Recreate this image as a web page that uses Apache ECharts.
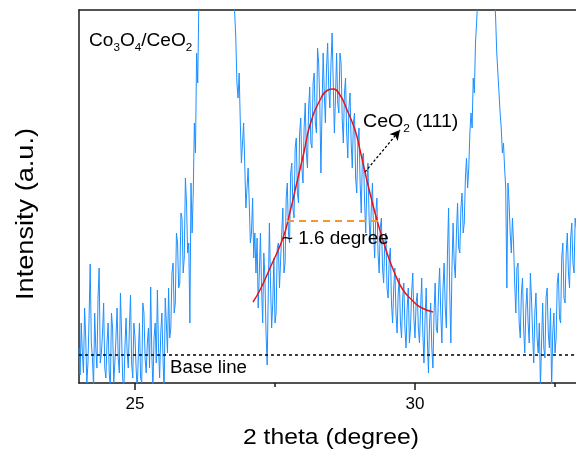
<!DOCTYPE html>
<html>
<head>
<meta charset="utf-8">
<script src="https://cdn.jsdelivr.net/npm/echarts@6/dist/echarts.min.js"></script>
<style>
html,body{margin:0;padding:0;background:#fff;}
#chart{width:576px;height:453px;}
</style>
</head>
<body>
<div id="chart"></div>
<script>
// ---- Data ----
// XRD scan: uniformly sampled 2-theta grid
const thetaStart = 24.0;
const thetaStep = 0.02;
// Measured intensity (a.u.) at each 2-theta step
const intensity = [
  35, 8, 60, 30, 10, 75, 45, 0, 20, 65, 119, 40, 25, -5, 70, 35, 15, 85, 115, 20,
  30, 50, 80, 15, 5, 40, 60, 10, -5, 70, 55, 0, 20, 45, 75, 25, 10, 90, 50, 5,
  -10, 35, 65, 30, 15, 55, 88, 20, 5, 60, 45, 15, -8, 30, 60, 5, 0, 80, 70, 25,
  10, 40, 55, 15, 96, 30, -5, 45, 60, 20, 93, 35, 5, 50, 70, 25, -10, 85, 60, 30,
  95, 45, 55, 110, 120, 70, 80, 150, 140, 95, 100, 170, 165, 110, 125, 205, 180, 130, 140, 60,
  200, 150, 190, 260, 230, 330, 300, 380, 420, 470, 520, 570, 610, 650, 690, 720, 750, 780, 800, 815,
  830, 840, 845, 840, 835, 820, 805, 785, 760, 730, 700, 665, 630, 590, 550, 510, 470, 430, 400, 370,
  345, 300, 285, 310, 262, 220, 240, 260, 218, 175, 195, 215, 180, 140, 150, 185, 125, 150, 110, 145,
  75, 110, 150, 95, 60, 130, 105, 50, 18, 90, 160, 100, 55, 80, 125, 60, 70, 135, 140, 95,
  95, 150, 175, 110, 120, 185, 200, 150, 140, 210, 220, 175, 165, 235, 245, 190, 180, 250, 265, 215,
  200, 255, 280, 230, 215, 275, 296, 240, 235, 300, 310, 260, 250, 335, 320, 280, 210, 275, 330, 290,
  260, 315, 340, 295, 275, 320, 350, 300, 250, 285, 330, 280, 270, 330, 320, 265, 240, 290, 305, 250,
  225, 275, 290, 240, 215, 260, 270, 205, 190, 240, 255, 200, 170, 225, 230, 180, 150, 200, 220, 165,
  140, 175, 200, 150, 125, 170, 185, 130, 110, 155, 165, 115, 100, 140, 150, 95, 85, 125, 135, 80,
  60, 95, 115, 70, 50, 90, 105, 60, 45, 85, 100, 55, 35, 75, 95, 40, 55, 90, 110, 65,
  45, 80, 90, 55, 40, 75, 105, 50, 20, 65, 95, 45, 10, 60, 80, 35, 15, 70, 100, 55,
  50, 90, 115, 70, 40, 95, 120, 75, 55, 130, 175, 90, 40, 115, 160, 120, 105, 150, 180, 135,
  130, 175, 190, 150, 160, 205, 225, 195, 215, 250, 270, 255, 305, 290, 340, 360, 385, 420, 450, 500,
  560, 610, 660, 690, 700, 680, 650, 600, 540, 480, 430, 390, 365, 330, 310, 290, 270, 255, 230, 240,
  215, 195, 95, 200, 180, 150, 130, 165, 140, 100, 70, 115, 120, 60, 45, 90, 105, 55, 30, 75,
  95, 60, 40, 110, 85, 50, 20, 70, 90, 45, 30, 60, -5, 40, 80, 35, 25, 85, 95, 50,
  35, 75, -5, 50, 70, 30, 45, 100, 110, 65, 60, 125, 140, 85, 80, 130, 150, 110, 95, 145,
  160, 120, 110, 165, 155
];
// Gaussian fit of the CeO2 (111) reflection: [2theta, intensity]
const fitTheta = [27.107, 27.232, 27.411, 27.643, 27.768, 27.893, 28.018, 28.125, 28.304, 28.446, 28.536, 28.661, 28.786, 28.929, 29.018, 29.161, 29.321, 29.500, 29.643, 29.786, 29.946, 30.089, 30.321];
const fitIntensity = [81, 93, 115, 145, 171, 201, 231, 258, 283, 293, 294, 288, 273, 253, 233, 198, 163, 130, 109, 93, 83, 76, 71];
// FWHM marker (~1.6 degree)
const fwhmTheta = [27.714, 29.339];
const fwhmLevel = 162;
// Base line level
const baseLevel = 28;
// Annotation arrow for CeO2 (111): from, to
const arrowFrom = [29.107, 211];
const arrowTo = [29.732, 253];
// Axis ticks
const majorTicks = [25, 30];
const minorTicks = [27.5, 32.5];
const xMin = 24.0, xMax = 32.875;
const yMin = 0, yMax = 373;

// ---- Build ----
const scan = intensity.map((v, i) => [+(thetaStart + i * thetaStep).toFixed(3), v]);
const fit = fitTheta.map((t, i) => [t, fitIntensity[i]]);

const FONT = '"Liberation Sans", Arial, Helvetica, sans-serif';
const chart = echarts.init(document.getElementById('chart'), null, {renderer: 'canvas'});

const sub = (size, pad) => ({
  n: {fontSize: size, fontFamily: FONT, fill: '#000'},
  s: {fontSize: Math.round(size * 0.62), fontFamily: FONT, fill: '#000', padding: [pad, 0, 0, 0]}
});

const option = {
  backgroundColor: '#fff',
  animation: false,
  grid: {left: 79, right: 0, top: 10, bottom: 70, containLabel: false},
  xAxis: [
    {
      type: 'value', min: xMin, max: xMax, position: 'bottom',
      axisLine: {show: true, onZero: false, lineStyle: {color: '#1a1a1a', width: 1.5}},
      axisTick: {show: true, customValues: majorTicks, length: 7, inside: false, lineStyle: {color: '#1a1a1a', width: 1.5}},
      axisLabel: {show: true, customValues: majorTicks, margin: 13, fontSize: 17, color: '#000', fontFamily: FONT},
      splitLine: {show: false}
    },
    {
      type: 'value', min: xMin, max: xMax, position: 'bottom',
      axisLine: {show: false, onZero: false},
      axisTick: {show: true, customValues: minorTicks, length: 4, inside: false, lineStyle: {color: '#1a1a1a', width: 1.5}},
      axisLabel: {show: false},
      splitLine: {show: false}
    },
    {
      type: 'value', min: xMin, max: xMax, position: 'top',
      axisLine: {show: true, onZero: false, lineStyle: {color: '#1a1a1a', width: 1.5}},
      axisTick: {show: false}, axisLabel: {show: false}, splitLine: {show: false}
    }
  ],
  yAxis: {
    type: 'value', min: yMin, max: yMax,
    axisLine: {show: true, onZero: false, lineStyle: {color: '#1a1a1a', width: 1.5}},
    axisTick: {show: false}, axisLabel: {show: false}, splitLine: {show: false}
  },
  series: [
    {
      name: 'Co3O4/CeO2', type: 'line', data: scan, xAxisIndex: 0,
      symbol: 'none', clip: true, smooth: false, sampling: undefined,
      lineStyle: {color: '#1e8fff', width: 1},
      z: 2,
      markLine: {
        silent: true, symbol: ['none', 'none'], label: {show: false},
        lineStyle: {color: '#000', type: [3, 3], width: 1.5},
        data: [{yAxis: baseLevel}]
      }
    },
    {
      name: 'fit', type: 'line', data: fit, smooth: 0.5,
      symbol: 'none', lineStyle: {color: '#e8141b', width: 1.5}, z: 3
    },
    {
      name: 'fwhm', type: 'line',
      data: [[fwhmTheta[0], fwhmLevel], [fwhmTheta[1], fwhmLevel]],
      symbol: 'none', lineStyle: {color: '#f7962b', width: 1.8, type: [7, 5]}, z: 4,
      markLine: {
        silent: true, symbol: ['none', 'arrow'], symbolSize: [8, 10], label: {show: false},
        lineStyle: {color: '#000', type: [2.5, 2], width: 1.3},
        data: [[{coord: arrowFrom}, {coord: arrowTo}]]
      }
    }
  ],
  graphic: [
    {type: 'text', x: 89, y: 30, scaleX: 1.06, z: 10,
      style: {text: '{n|Co}{s|3}{n|O}{s|4}{n|/CeO}{s|2}', fill: '#000', rich: sub(18, 12)}},
    {type: 'text', x: 363, y: 111, scaleX: 1.09, z: 10,
      style: {text: '{n|CeO}{s|2}{n| (111)}', fill: '#000', rich: sub(18, 12)}},
    {type: 'text', x: 282, y: 239, scaleX: 1.05, z: 10,
      style: {text: '~ 1.6 degree', fontSize: 18, fontFamily: FONT, fill: '#000', textVerticalAlign: 'middle', textAlign: 'left'}},
    {type: 'text', x: 170, y: 368.5, scaleX: 1.04, z: 10,
      style: {text: 'Base line', fontSize: 18, fontFamily: FONT, fill: '#000', textVerticalAlign: 'middle', textAlign: 'left'}},
    {type: 'text', x: 331, y: 438, scaleX: 1.1, z: 10,
      style: {text: '2 theta (degree)', fontSize: 22.5, fontFamily: FONT, fill: '#000', textVerticalAlign: 'middle', textAlign: 'center'}},
    {type: 'text', x: 27, y: 214, rotation: Math.PI / 2, scaleX: 1.18, z: 10,
      style: {text: 'Intensity (a.u.)', fontSize: 23, fontFamily: FONT, fill: '#000', textVerticalAlign: 'middle', textAlign: 'center'}}
  ]
};
chart.setOption(option);
</script>
</body>
</html>
